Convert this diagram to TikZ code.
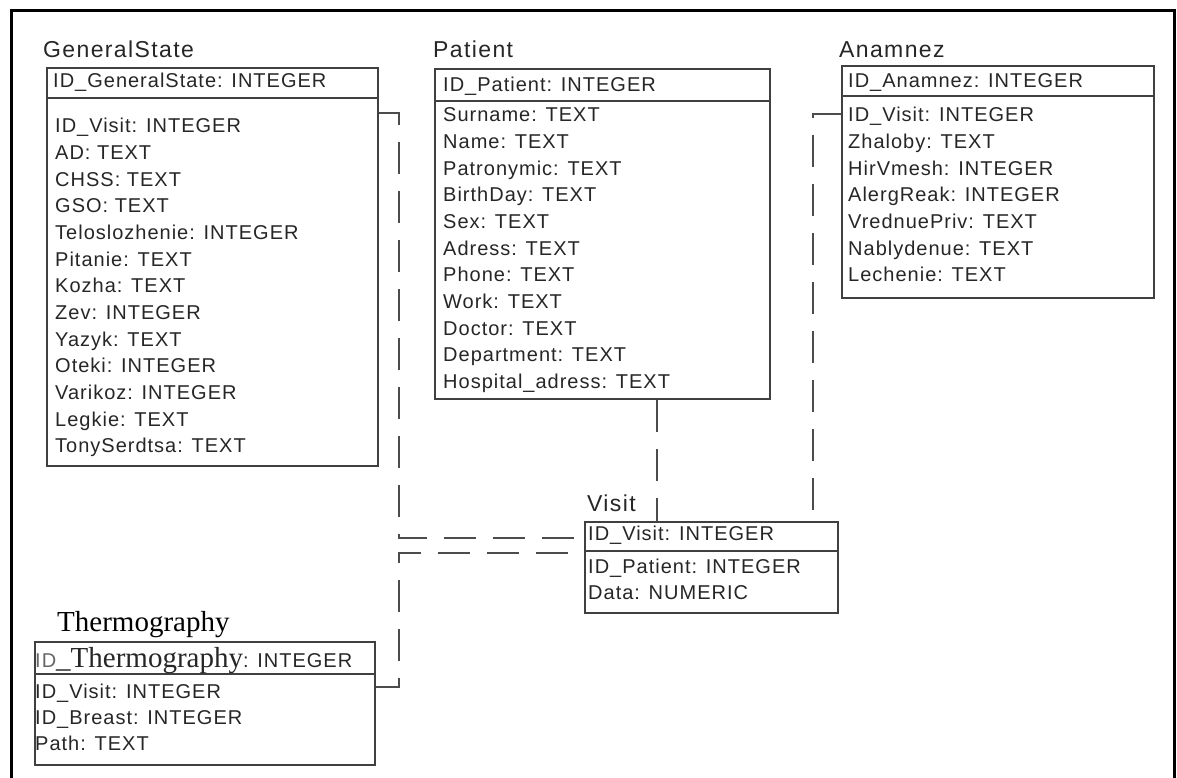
\documentclass[tikz,border=0pt]{standalone}
\usepackage{fontspec}
\setmainfont{Liberation Sans}
\newfontfamily\erfont[LetterSpace=5]{Liberation Sans}
\newfontfamily\ertitlefont[LetterSpace=6]{Liberation Sans}
\newfontfamily\erserif{Liberation Serif}
\newcommand{\fieldsz}{\erfont\fontsize{20}{24}\selectfont}
\newcommand{\titlesz}{\ertitlefont\fontsize{23}{27}\selectfont}
\newcommand{\serifsz}{\erserif\fontsize{29}{32}\selectfont}

\tikzset{
  entity/.style={draw=black!75, line width=1.8pt, inner sep=0pt, anchor=north west},
  divider/.style={draw=black!75, line width=1.8pt},
  etitle/.style={font=\titlesz, text=black!85, anchor=base west, inner sep=0pt},
  attr/.style={font=\fieldsz, text=black!85, anchor=base west, inner sep=0pt},
  rel/.style={draw=black!70, line width=1.8pt, dash pattern=on 32pt off 17pt}
}

\begin{document}
\begin{tikzpicture}[x=1pt,y=-1pt]
	\useasboundingbox (0,0) rectangle (1177,778);
	\draw[line width=3pt] (11,778) |- (1174,11) -- (1174,778);

	% GeneralState
	\node[etitle] (gs-t) at (43,57.3) {GeneralState};
	\node[entity, minimum width=331pt, minimum height=398pt] (gs) at (46,67) {};
	\draw[divider] (gs.west |- 0,98) -- (gs.east |- 0,98);
	\node[attr] (gs-0) at (53,87.3) {ID\_GeneralState: INTEGER};
	\foreach \f [count=\i] in {ID\_Visit: INTEGER, AD: TEXT, CHSS: TEXT, GSO: TEXT,
		Teloslozhenie: INTEGER, Pitanie: TEXT, Kozha: TEXT, Zev: INTEGER, Yazyk: TEXT,
		Oteki: INTEGER, Varikoz: INTEGER, Legkie: TEXT, TonySerdtsa: TEXT}
		\node[attr] (gs-\i) at (55,106+\i*26.67) {\f};

	% Patient
	\node[etitle] (pa-t) at (433,57.3) {Patient};
	\node[entity, minimum width=335pt, minimum height=330pt] (pa) at (434,68) {};
	\draw[divider] (pa.west |- 0,101) -- (pa.east |- 0,101);
	\node[attr] (pa-0) at (443,91.7) {ID\_Patient: INTEGER};
	\foreach \f [count=\i] in {Surname: TEXT, Name: TEXT, Patronymic: TEXT, BirthDay: TEXT,
		Sex: TEXT, Adress: TEXT, Phone: TEXT, Work: TEXT, Doctor: TEXT, Department: TEXT,
		Hospital\_adress: TEXT}
		\node[attr] (pa-\i) at (443,95.03+\i*26.67) {\f};

	% Anamnez
	\node[etitle] (an-t) at (839,57.3) {Anamnez};
	\node[entity, minimum width=312pt, minimum height=232pt] (an) at (841,65) {};
	\draw[divider] (an.west |- 0,96) -- (an.east |- 0,96);
	\node[attr] (an-0) at (848,87.3) {ID\_Anamnez: INTEGER};
	\foreach \f [count=\i] in {ID\_Visit: INTEGER, Zhaloby: TEXT, HirVmesh: INTEGER,
		AlergReak: INTEGER, VrednuePriv: TEXT, Nablydenue: TEXT, Lechenie: TEXT}
		\node[attr] (an-\i) at (848,95.03+\i*26.67) {\f};

	% Visit
	\node[etitle] (vi-t) at (587,511.7) {Visit};
	\node[entity, minimum width=253pt, minimum height=91pt] (vi) at (584,521) {};
	\draw[divider] (vi.west |- 0,551) -- (vi.east |- 0,551);
	\node[attr] (vi-0) at (588,540.7) {ID\_Visit: INTEGER};
	\foreach \f [count=\i] in {ID\_Patient: INTEGER, Data: NUMERIC}
		\node[attr] (vi-\i) at (588,547.3+\i*26) {\f};

	% Thermography
	\node[font=\serifsz, anchor=base west, inner sep=0pt] (th-t) at (57,631) {Thermography};
	\node[entity, minimum width=340pt, minimum height=123pt] (th) at (34,641) {};
	\draw[divider] (th.west |- 0,674) -- (th.east |- 0,674);
	\node[attr] (th-0) at (35,667) {{\color{black!60}ID}{\serifsz\_Thermography}: INTEGER};
	\foreach \f [count=\i] in {ID\_Visit: INTEGER, ID\_Breast: INTEGER, Path: TEXT}
		\node[attr] (th-\i) at (35,672+\i*26.3) {\f};

	% relations
	\draw[rel] (gs.east |- 0,113) -- ++(20,0) |- (vi.west |- 0,538);
	\draw[rel] (th.east |- 0,687) -- ++(23,0) |- (vi.west |- 0,553);
	\draw[rel] (pa.south -| 657,0) -- (vi.north -| 657,0);
	\draw[rel] (an.west |- 0,114) -- ++(-28,0) -- (vi.north -| 813,0);
\end{tikzpicture}
\end{document}
